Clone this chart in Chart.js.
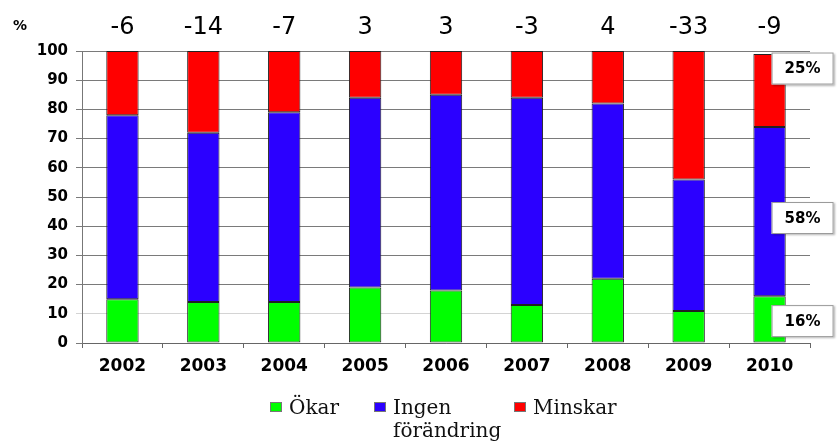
<!DOCTYPE html>
<html>
<head>
<meta charset="utf-8">
<script src="https://cdn.jsdelivr.net/npm/chart.js@4/dist/chart.umd.min.js"></script>
<style>
  html, body { margin: 0; padding: 0; background: #fff; }
  #wrap { width: 837px; height: 442px; position: relative; }
</style>
</head>
<body>
<div id="wrap"><canvas id="chart" width="837" height="442"></canvas></div>
<script>
// data
var years = ["2002", "2003", "2004", "2005", "2006", "2007", "2008", "2009", "2010"];
var okar = [15, 14, 14, 19, 18, 13, 22, 11, 16];
var ingen = [63, 58, 65, 65, 67, 71, 60, 45, 58];
var minskar = [22, 28, 21, 16, 15, 16, 18, 44, 25];
var netto = ["-6", "-14", "-7", "3", "3", "-3", "4", "-33", "-9"];
var yTicks = [0, 10, 20, 30, 40, 50, 60, 70, 80, 90, 100];
var seriesNames = ["Ökar", ["Ingen", "förändring"], "Minskar"];
var lastBarLabels = ["16%", "58%", "25%"];

var colors = ["#00ff00", "#2b00ff", "#ff0000"];

/**
 * Draws the net numbers above the bars, the "%" title and the boxes by the 2010 bar.
 */
var extrasPlugin = {
  id: "extras",
  afterDraw: function (chart) {
    var ctx = chart.ctx;
    var x = chart.scales.x;
    var y = chart.scales.y;
    ctx.save();

    // "%" unit label
    ctx.fillStyle = "#000";
    ctx.font = "bold 14px 'DejaVu Sans'";
    ctx.textAlign = "center";
    ctx.textBaseline = "middle";
    ctx.fillText("%", 20, 26);

    // net numbers over each bar
    ctx.font = "24px 'DejaVu Sans'";
    ctx.textBaseline = "alphabetic";
    netto.forEach(function (t, i) {
      ctx.fillText(t, x.getPixelForValue(i), 34);
    });

    // label boxes to the right of the last bar
    var boxY = [7.5, 42.8, 94];
    var left = x.getPixelForValue(years.length - 1) + 2;
    ctx.font = "bold 15px 'DejaVu Sans'";
    ctx.textBaseline = "middle";
    lastBarLabels.forEach(function (t, i) {
      var cy = y.getPixelForValue(boxY[i]);
      ctx.shadowColor = "rgba(0,0,0,0.3)";
      ctx.shadowOffsetX = 1;
      ctx.shadowOffsetY = 1;
      ctx.shadowBlur = 2;
      ctx.fillStyle = "#fff";
      ctx.fillRect(left, cy - 16, 62, 32);
      ctx.shadowColor = "transparent";
      ctx.strokeStyle = "#999";
      ctx.lineWidth = 1;
      ctx.strokeRect(left + 0.5, cy - 15.5, 61, 31);
      ctx.fillStyle = "#000";
      ctx.fillText(t, left + 31, cy + 1);
    });

    // legend below the axis
    var legX = [270, 374, 514];
    ctx.font = "20px 'DejaVu Serif'";
    ctx.textAlign = "left";
    ctx.textBaseline = "alphabetic";
    seriesNames.forEach(function (name, i) {
      ctx.fillStyle = colors[i];
      ctx.fillRect(legX[i], 402, 12, 10);
      ctx.strokeStyle = "#777";
      ctx.strokeRect(legX[i] + 0.5, 402.5, 11, 9);
      ctx.fillStyle = "#111";
      var lines = Array.isArray(name) ? name : [name];
      lines.forEach(function (l, k) {
        ctx.fillText(l, legX[i] + 19, 414 + k * 23);
      });
    });

    ctx.restore();
  }
};

function makeSet(label, data, color) {
  return {
    label: label,
    data: data,
    backgroundColor: color,
    borderColor: "#222",
    borderWidth: 1,
    borderSkipped: false,
    barPercentage: 0.4,
    categoryPercentage: 1
  };
}

var ctx = document.getElementById("chart").getContext("2d");
new Chart(ctx, {
  type: "bar",
  data: {
    labels: years,
    datasets: [
      makeSet("Ökar", okar, colors[0]),
      makeSet("Ingen förändring", ingen, colors[1]),
      makeSet("Minskar", minskar, colors[2])
    ]
  },
  options: {
    responsive: false,
    animation: false,
    layout: { padding: { top: 51, right: 27, bottom: 59, left: 0 } },
    plugins: {
      legend: { display: false },
      tooltip: { enabled: false }
    },
    scales: {
      x: {
        stacked: true,
        grid: {
          offset: true,
          drawOnChartArea: false,
          tickLength: 5,
          color: "#666"
        },
        border: { color: "#666" },
        ticks: {
          color: "#000",
          font: { family: "DejaVu Sans", weight: "bold", size: 17 },
          padding: 8
        },
        afterFit: function (scale) { scale.height = 40; }
      },
      y: {
        stacked: true,
        min: 0,
        max: 100,
        afterBuildTicks: function (scale) {
          scale.ticks = yTicks.map(function (v) { return { value: v }; });
        },
        grid: {
          tickLength: 6,
          color: function (c) {
            return c.tick && c.tick.value === 10 ? "#d4d4d4" : "#7a7a7a";
          }
        },
        border: { color: "#777" },
        ticks: {
          color: "#000",
          font: { family: "DejaVu Sans", weight: "bold", size: 15 },
          padding: 8
        },
        afterFit: function (scale) { scale.width = 82; }
      }
    }
  },
  plugins: [extrasPlugin]
});
</script>
</body>
</html>
